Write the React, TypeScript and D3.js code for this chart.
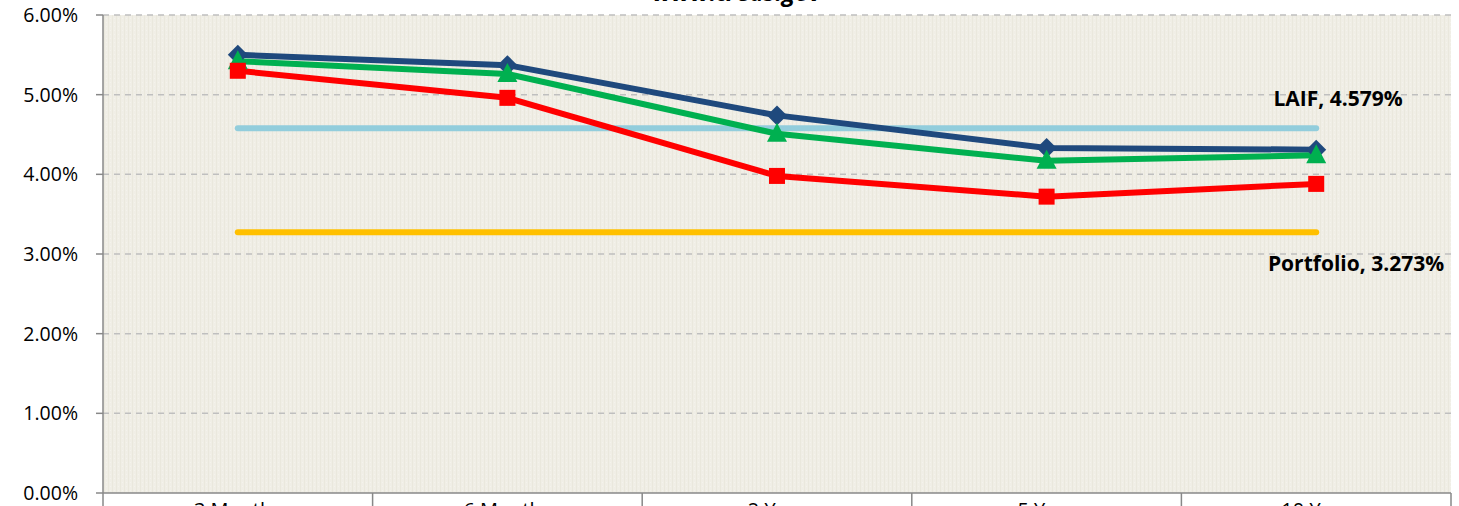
import React from "react";
import * as d3 from "d3";

const categories = ["3 Months", "6 Months", "2 Year", "5 Year", "10 Year"];
const seriesBlue = [5.5, 5.37, 4.74, 4.33, 4.31];
const seriesGreen = [5.42, 5.26, 4.51, 4.17, 4.24];
const seriesRed = [5.3, 4.96, 3.98, 3.72, 3.88];
const laifValue = 4.579;
const portfolioValue = 3.273;
const yTicks = [0, 1, 2, 3, 4, 5, 6];
const title = "www.treas.gov";

const W = 1459;
const H = 506;
const left = 103;
const right = 1451;
const top = 15;
const bottom = 493;

export default function App() {
  const x = d3.scaleBand<string>().domain(categories).range([left, right]);
  const y = d3.scaleLinear().domain([0, 6]).range([bottom, top]);
  const cx = (c: string) => (x(c) as number) + x.bandwidth() / 2;
  const line = d3
    .line<number>()
    .x((_, i) => cx(categories[i]))
    .y((d) => y(d));
  const font = "'Open Sans', 'Liberation Sans', sans-serif";
  const x0 = cx(categories[0]);
  const x1 = cx(categories[categories.length - 1]);

  return (
    <svg
      width={W}
      height={H}
      style={{ position: "absolute", left: 0, top: 0, background: "#fff" }}
    >
      <defs>
        <pattern id="bg" width="4" height="4" patternUnits="userSpaceOnUse">
          <rect width="4" height="4" fill="#F0EEE6" />
          <rect x="0" y="0" width="1" height="4" fill="#EAE8DD" />
          <rect x="2" y="2" width="1" height="1" fill="#F4F3EC" />
        </pattern>
      </defs>
      <rect x={left} y={top} width={right - left} height={bottom - top} fill="url(#bg)" />
      <text
        x={737}
        y={1}
        textAnchor="middle"
        fontFamily={font}
        fontStyle="italic"
        fontWeight="bold"
        fontSize={24}
        fill="#000"
      >
        {title}
      </text>
      {yTicks.map((t) => (
        <g key={t}>
          {t > 0 && (
            <line
              x1={left}
              x2={right}
              y1={y(t)}
              y2={y(t)}
              stroke="#BFBFBF"
              strokeWidth={1.5}
              strokeDasharray="6,5"
            />
          )}
          <line x1={96} x2={left} y1={y(t)} y2={y(t)} stroke="#888" strokeWidth={1.5} />
          <text
            x={78}
            y={y(t) + 7}
            textAnchor="end"
            fontFamily={font}
            fontSize={19.5}
            fill="#000"
          >
            {t.toFixed(2)}%
          </text>
        </g>
      ))}
      <line x1={left} x2={left} y1={top} y2={bottom} stroke="#888" strokeWidth={1.5} />
      <line x1={left} x2={right} y1={bottom} y2={bottom} stroke="#888" strokeWidth={1.5} />
      {categories.map((c, i) => (
        <g key={c}>
          <line
            x1={(x(c) as number)}
            x2={(x(c) as number)}
            y1={bottom}
            y2={H}
            stroke="#888"
            strokeWidth={1.5}
          />
          {i === categories.length - 1 && (
            <line x1={right} x2={right} y1={bottom} y2={H} stroke="#888" strokeWidth={1.5} />
          )}
          <text
            x={cx(c)}
            y={H + 11}
            textAnchor="middle"
            fontFamily={font}
            fontSize={20}
            fill="#000"
          >
            {c}
          </text>
        </g>
      ))}
      <line x1={x0} x2={x1} y1={y(laifValue)} y2={y(laifValue)} stroke="#92CDDC" strokeWidth={6} strokeLinecap="round" />
      <line x1={x0} x2={x1} y1={y(portfolioValue)} y2={y(portfolioValue)} stroke="#FFC000" strokeWidth={6} strokeLinecap="round" />

      <path d={line(seriesBlue) || ""} fill="none" stroke="#1F497D" strokeWidth={6} strokeLinejoin="round" />
      <path d={line(seriesGreen) || ""} fill="none" stroke="#00B050" strokeWidth={6} strokeLinejoin="round" />
      <path d={line(seriesRed) || ""} fill="none" stroke="#FF0000" strokeWidth={6} strokeLinejoin="round" />

      {seriesBlue.map((v, i) => {
        const px = cx(categories[i]);
        const py = y(v);
        return (
          <path key={"b" + i} d={`M${px},${py - 10}L${px + 10},${py}L${px},${py + 10}L${px - 10},${py}Z`} fill="#1F497D" />
        );
      })}
      {seriesGreen.map((v, i) => {
        const px = cx(categories[i]);
        const py = y(v);
        return (
          <path key={"g" + i} d={`M${px},${py - 11}L${px + 10},${py + 8}L${px - 10},${py + 8}Z`} fill="#00B050" />
        );
      })}
      {seriesRed.map((v, i) => {
        const px = cx(categories[i]);
        const py = y(v);
        return <rect key={"r" + i} x={px - 8} y={py - 8} width={16} height={16} fill="#FF0000" />;
      })}

      <text x={1338} y={106} textAnchor="middle" fontFamily={font} fontWeight="bold" fontSize={21} fill="#000">
        LAIF, 4.579%
      </text>
      <text x={1356} y={271} textAnchor="middle" fontFamily={font} fontWeight="bold" fontSize={21} fill="#000">
        Portfolio, 3.273%
      </text>
    </svg>
  );
}
